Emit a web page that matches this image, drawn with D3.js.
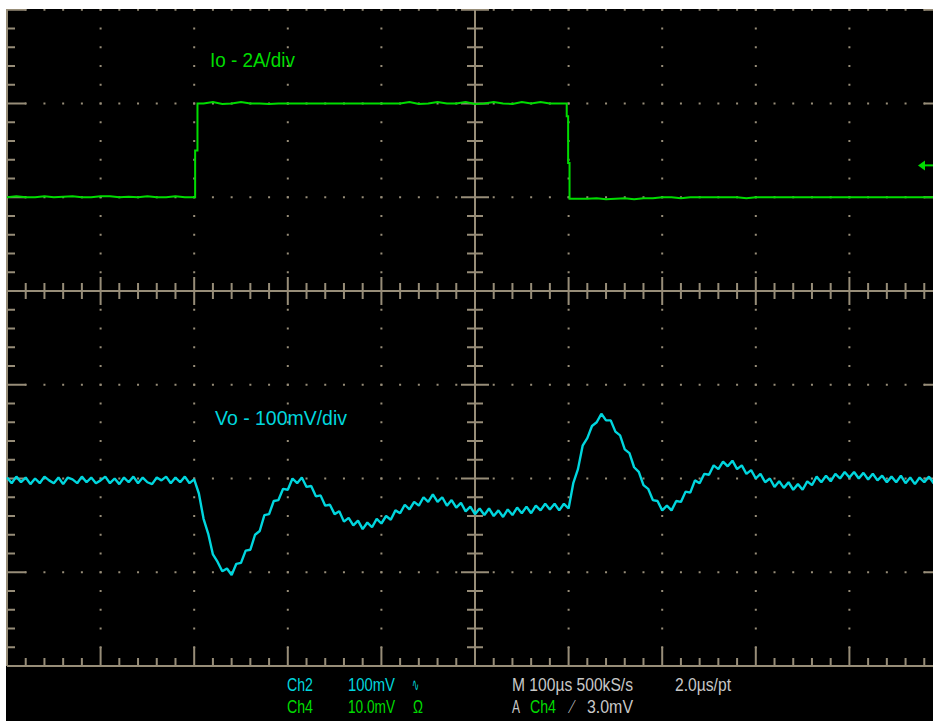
<!DOCTYPE html>
<meta charset="utf-8">
<title>Load step response</title>
<style>
  body { margin: 0; background: #fff; }
  svg { display: block; }
  text { font-family: "Liberation Sans", Arial, sans-serif; }
</style>
<body>
<script src="https://d3js.org/d3.v7.min.js"></script>
<script>

// scope settings
var timePerDivUs = 100;      // M 100us
var sampleStepUs = 5;
var ioAmpsPerDiv = 2;
var voMvPerDiv = 100;
var ioZeroDiv = 1;           // channel positions (div from centre)
var voZeroDiv = -2.02;
var triggerAmps = 0.68;      // trigger arrow on the right edge

// Io, amps (load step)
var ioTimeUs = d3.range(0, 201, 10)
  .concat([201, 201, 203.5, 203.5], d3.range(210, 591, 10),
          [598, 598, 599.5, 599.5, 601, 601], d3.range(610, 1001, 10));
var ioAmps = [
  0, 0.02, 0, 0, 0.02, 0, 0.01, 0.02, 0, 0, 0.02, 0.02, 0, 0.01, 0, 0.02, 0, 0, 0.02, 0, 0,
  0, 1.0, 1.0, 2.0,
  2.0, 2.03, 1.99, 2.0, 2.03, 2.0, 2.0, 1.99, 2.0, 2.0, 2.0, 2.0, 2.0, 2.0, 2.0, 2.0, 2.0, 2.0, 2.0, 2.0,
  2.0, 2.0, 2.03, 1.99, 2.0, 2.03, 2.0, 2.0, 2.03, 1.99, 2.0, 2.03, 2.0, 1.99, 2.03, 2.0, 2.03, 2.0, 2.0,
  2.0, 1.73, 1.73, 0.73, 0.73, -0.03,
  -0.03, -0.03, -0.02, -0.04, -0.03, -0.02, -0.04, -0.02, -0.02, 0, 0, -0.02, 0, 0, 0, 0, 0, 0, -0.02, 0,
  0, 0, 0, 0, 0, 0, 0, 0, 0, 0, 0, 0, 0, 0, 0, 0, 0, 0, 0, 0
];

// Vo, mV deviation from steady state, one value per 5 us
var voMv = [
  3, -3, 4, -2, 3, -4, 2, -3, 4, 0, -3, 3, -4, 3, 1, -3, 4, -2, 3, -3,
  0, 4, -3, 2, -4, 3, -2, 4, -3, 3, -2, -4, 3, 0, 4, -3, 3, -2, 4, -3,
  1, -14, -41, -57, -79, -87, -97, -94, -101, -89, -88, -75, -74, -58, -54, -37, -36, -22, -21, -9,
  -10, 2, -3, 3, -7, -6, -17, -16, -27, -26, -36, -33, -44, -40, -48, -43, -52, -45, -50, -41,
  -46, -38, -42, -32, -35, -26, -31, -23, -27, -18, -23, -15, -23, -18, -27, -21, -29, -24, -33, -28,
  -36, -30, -37, -30, -38, -32, -39, -31, -37, -29, -35, -28, -35, -27, -32, -25, -31, -25, -32, -25,
  -30, -3, 12, 37, 45, 58, 62, 71, 64, 64, 52, 48, 33, 29, 14, 9, -5, -9, -21, -22,
  -32, -27, -32, -22, -23, -12, -13, 0, -3, 7, 6, 16, 12, 20, 15, 21, 12, 16, 7, 11,
  2, 7, -2, 2, -7, -1, -8, -2, -10, -4, -10, -1, -5, 4, -2, 5, -1, 7, 2, 9,
  3, 9, 2, 8, 1, 7, 0, 5, -2, 4, -2, 5, -3, 3, -4, 3, -2, 4, -3, 2,
  -3
];

var traceLabels = ["Io - 2A/div", "Vo - 100mV/div"];
var readoutText = ["Ch2", "100mV", "\u223F", "Ch4", "10.0mV", "\u03A9",
                   "M 100\u00B5s 500kS/s", "2.0\u00B5s/pt", "A", "Ch4", "\u27CB", "3.0mV"];

var width = 933;
var height = 721;
var green = "#00dc00", cyan = "#00d6de", grat = "#978d78", grey = "#c8c8c8";

var svg = d3.select("body").append("svg")
  .attr("width", width)
  .attr("height", height);

svg.append("rect").attr("x", 6).attr("y", 9)
  .attr("width", width - 6).attr("height", height - 9).attr("fill", "#000");

svg.append("clipPath").attr("id", "screen")
  .append("rect").attr("x", 6).attr("y", 9).attr("width", width - 6).attr("height", 660);

var x = d3.scaleLinear().domain([0, 10 * timePerDivUs]).range([7, 943]);
var y = d3.scaleLinear().domain([-4, 4]).range([666, -84]);   // divisions

var g = svg.append("g").attr("clip-path", "url(#screen)");

// dotted graticule
var fine = d3.range(-4, 4.01, 0.2);
var fineT = d3.range(0, 1001, 20);
var dots = [];
[1, 2, 3, 4, 6, 7, 8, 9].forEach(function(k) {
  fine.forEach(function(v) { dots.push([x(k * timePerDivUs), y(v)]); });
});
[-3, -2, -1, 1, 2, 3].forEach(function(j) {
  fineT.forEach(function(t) { dots.push([x(t), y(j)]); });
});
g.selectAll("rect.dot").data(dots).join("rect")
  .attr("class", "dot")
  .attr("x", function(d) { return d[0] - 1; })
  .attr("y", function(d) { return d[1] - 1; })
  .attr("width", 2).attr("height", 2)
  .attr("fill", grat);

// frame, centre cross and ticks
var lines = [
  [x(0), y(-4), x(0), y(4)], [x(1000), y(-4), x(1000), y(4)],
  [x(0), y(-4), x(1000), y(-4)], [x(0), y(4), x(1000), y(4)],
  [x(0), y(0), x(1000), y(0)], [x(500), y(-4), x(500), y(4)]
];
fineT.forEach(function(t, i) {
  var len = i % 5 === 0 ? 19 : 8;
  var half = i % 5 === 0 ? 14 : 8;
  lines.push([x(t), y(-4), x(t), y(-4) - len]);
  lines.push([x(t), y(4), x(t), y(4) + len]);
  lines.push([x(t), y(0) - half, x(t), y(0) + half]);
});
fine.forEach(function(v, i) {
  var len = i % 5 === 0 ? 19 : 8;
  var half = i % 5 === 0 ? 14 : 8;
  lines.push([x(0), y(v), x(0) + len, y(v)]);
  lines.push([x(1000), y(v), x(1000) - len, y(v)]);
  lines.push([x(500) - half, y(v), x(500) + half, y(v)]);
});
g.selectAll("line.grat").data(lines).join("line")
  .attr("class", "grat")
  .attr("x1", function(d) { return d[0]; })
  .attr("y1", function(d) { return d[1]; })
  .attr("x2", function(d) { return d[2]; })
  .attr("y2", function(d) { return d[3]; })
  .attr("stroke", grat)
  .attr("stroke-width", 2);

// traces
var ioLine = d3.line()
  .x(function(d, i) { return x(ioTimeUs[i]); })
  .y(function(d) { return y(ioZeroDiv + d / ioAmpsPerDiv); });
var voLine = d3.line()
  .x(function(d, i) { return x(i * sampleStepUs); })
  .y(function(d) { return y(voZeroDiv + d / voMvPerDiv); });

g.append("path").datum(ioAmps).attr("d", ioLine)
  .attr("fill", "none").attr("stroke", green).attr("stroke-width", 2);
g.append("path").datum(voMv).attr("d", voLine)
  .attr("fill", "none").attr("stroke", cyan).attr("stroke-width", 2.4)
  .attr("stroke-linejoin", "bevel");

// trigger level arrow
var ty = y(ioZeroDiv + triggerAmps / ioAmpsPerDiv);
svg.append("path")
  .attr("d", "M918," + ty + "l7,-5v10z")
  .attr("fill", green);
svg.append("line").attr("x1", 924).attr("x2", 933).attr("y1", ty).attr("y2", ty)
  .attr("stroke", green).attr("stroke-width", 2);

// trace labels
svg.append("text").attr("x", 210).attr("y", 66.5)
  .attr("textLength", 85).attr("lengthAdjust", "spacingAndGlyphs")
  .style("font-size", "20px").attr("fill", green).text(traceLabels[0]);
svg.append("text").attr("x", 215).attr("y", 425)
  .attr("textLength", 132).attr("lengthAdjust", "spacingAndGlyphs")
  .style("font-size", "20px").attr("fill", cyan).text(traceLabels[1]);

// readout under the screen
var readoutPos = [
  [287, 691, 26, cyan], [348, 691, 47, cyan], [412, 691, 7, cyan],
  [287, 713, 26, green], [348, 713, 47, green], [413, 713, 10, green],
  [512, 691, 121, grey], [675, 691, 56, grey],
  [512, 713, 8, grey], [530, 713, 26, green], [568, 713, 8, grey], [587, 713, 46, grey]
];
svg.selectAll("text.readout").data(readoutText).join("text")
  .attr("class", "readout")
  .attr("x", function(d, i) { return readoutPos[i][0]; })
  .attr("y", function(d, i) { return readoutPos[i][1]; })
  .attr("textLength", function(d, i) { return readoutPos[i][2]; })
  .attr("lengthAdjust", "spacingAndGlyphs")
  .style("font-size", "18px")
  .attr("fill", function(d, i) { return readoutPos[i][3]; })
  .text(function(d) { return d; });

</script>
